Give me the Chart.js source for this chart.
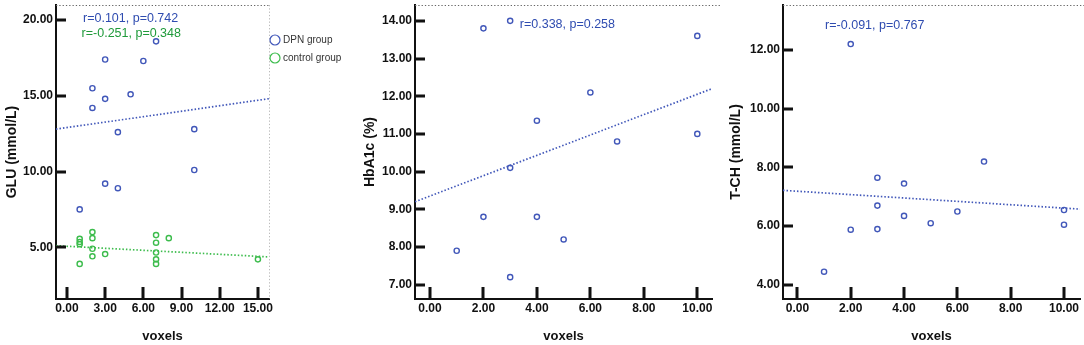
<!DOCTYPE html>
<html lang="en">
<head>
    <meta charset="UTF-8">
    <title>Voxels correlations</title>
    <style>
        body {
            margin: 0;
            padding: 0;
            background: #fff;
        }
        #wrap {
            position: relative;
            width: 1084px;
            height: 345px;
        }
        canvas {
            position: absolute;
            top: 0;
        }
    </style>
</head>
<body>
    <div id="wrap">
        <canvas id="gluChart" width="360" height="345" style="left:0"></canvas>
        <canvas id="hbaChart" width="360" height="345" style="left:360px"></canvas>
        <canvas id="tchChart" width="364" height="345" style="left:720px"></canvas>
    </div>
    <script src="https://cdn.jsdelivr.net/npm/chart.js@4.4.1/dist/chart.umd.min.js"></script>
    <script>
        // GLU panel
        const gluTicksX = [0, 3, 6, 9, 12, 15];
        const gluTicksY = [5, 10, 15, 20];
        const dpnVoxels = [1, 2, 2, 3, 3, 3, 4, 4, 5, 6, 7, 10, 10];
        const dpnGlu = [7.5, 15.5, 14.2, 17.4, 14.8, 9.2, 12.6, 8.9, 15.1, 17.3, 18.6, 12.8, 10.1];
        const ctrlVoxels = [1, 1, 1, 1, 2, 2, 2, 2, 3, 7, 7, 7, 7, 7, 8, 15];
        const ctrlGlu = [5.55, 5.35, 5.2, 3.9, 6.0, 5.6, 4.9, 4.4, 4.55, 5.8, 5.3, 4.65, 4.2, 3.9, 5.6, 4.2];
        const gluFitX = [-0.86, 15.87];
        const dpnFitY = [12.8, 14.81];
        const ctrlFitY = [5.1, 4.36];

        // HbA1c panel
        const hbaTicksX = [0, 2, 4, 6, 8, 10];
        const hbaTicksY = [7, 8, 9, 10, 11, 12, 13, 14];
        const hbaVoxels = [2, 3, 10, 6, 4, 7, 10, 3, 2, 4, 1, 5, 3];
        const hbaValues = [13.8, 14.0, 13.6, 12.1, 11.35, 10.8, 11.0, 10.1, 8.8, 8.8, 7.9, 8.2, 7.2];
        const hbaFitX = [-0.56, 10.55];
        const hbaFitY = [9.2, 12.2];

        // T-CH panel
        const tchTicksX = [0, 2, 4, 6, 8, 10];
        const tchTicksY = [4, 6, 8, 10, 12];
        const tchVoxels = [2, 7, 3, 4, 3, 4, 6, 10, 5, 10, 2, 3, 1];
        const tchValues = [12.2, 8.2, 7.65, 7.45, 6.7, 6.35, 6.5, 6.55, 6.1, 6.05, 5.88, 5.9, 4.45];
        const tchFitX = [-0.54, 10.6];
        const tchFitY = [7.22, 6.58];

        const BLUE = '#4157b9';
        const BLUE_TEXT = '#2f4cb0';
        const GREEN = '#3cbc4c';
        const GREEN_TEXT = '#1f9a3a';
        const FONT = '"Liberation Sans", Arial, sans-serif';

        function pairs(xs, ys) {
            return xs.map((x, i) => ({ x: x, y: ys[i] }));
        }

        function pointSet(label, xs, ys, color) {
            return {
                type: 'scatter',
                label: label,
                data: pairs(xs, ys),
                borderColor: color,
                backgroundColor: 'rgba(0,0,0,0)',
                borderWidth: 1.4,
                pointRadius: 2.6,
                pointHoverRadius: 2.6
            };
        }

        function fitSet(xs, ys, color) {
            return {
                type: 'line',
                data: pairs(xs, ys),
                borderColor: color,
                borderWidth: 1.7,
                borderDash: [1.5, 2],
                pointRadius: 0,
                fill: false
            };
        }

        // dotted frame, inward tick marks, r/p notes and the little legend
        const panelDeco = {
            id: 'panelDeco',
            afterDraw(chart, args, opts) {
                const ctx = chart.ctx;
                const a = chart.chartArea;
                const xs = chart.scales.x;
                const ys = chart.scales.y;
                ctx.save();
                ctx.lineWidth = 1;
                ctx.strokeStyle = '#666';
                ctx.setLineDash([1.3, 2]);
                ctx.beginPath();
                ctx.moveTo(a.left, a.top + 0.5);
                ctx.lineTo(opts.rightFrame ? a.right : chart.width, a.top + 0.5);
                ctx.stroke();
                if (opts.rightFrame) {
                    ctx.strokeStyle = '#bbb';
                    ctx.beginPath();
                    ctx.moveTo(a.right + 0.5, a.top);
                    ctx.lineTo(a.right + 0.5, a.bottom);
                    ctx.stroke();
                }
                ctx.setLineDash([]);

                // stroked ticks did not show up here, so they are filled
                ctx.fillStyle = '#111';
                opts.xTicks.forEach(v => {
                    const px = Math.round(xs.getPixelForValue(v));
                    ctx.fillRect(px - 1.5, a.bottom - 12, 3, 12);
                });
                opts.yTicks.forEach(v => {
                    const py = Math.round(ys.getPixelForValue(v));
                    ctx.fillRect(a.left - 1, py - 1.5, 11, 3);
                });

                ctx.textBaseline = 'middle';
                ctx.textAlign = 'left';
                ctx.font = '12.5px ' + FONT;
                (opts.notes || []).forEach(n => {
                    ctx.fillStyle = n.color;
                    ctx.fillText(n.text, xs.getPixelForValue(n.x), ys.getPixelForValue(n.y));
                });

                ctx.font = '10px ' + FONT;
                ctx.lineWidth = 1.2;
                (opts.legend || []).forEach((item, i) => {
                    const cy = 40 + i * 18;
                    const cx = a.right + 6;
                    ctx.strokeStyle = item.color;
                    ctx.beginPath();
                    ctx.arc(cx, cy, 5, 0, Math.PI * 2);
                    ctx.stroke();
                    ctx.fillStyle = '#333';
                    ctx.fillText(item.text, cx + 8, cy);
                });
                ctx.restore();
            }
        };

        function makePanel(id, p) {
            const tickFont = { family: FONT, size: 12, weight: 'bold' };
            return new Chart(document.getElementById(id).getContext('2d'), {
                type: 'scatter',
                data: { datasets: p.datasets },
                options: {
                    responsive: false,
                    animation: false,
                    events: [],
                    layout: { padding: { top: 5, right: p.padRight, left: 0, bottom: 0 } },
                    plugins: {
                        legend: { display: false },
                        tooltip: { enabled: false },
                        panelDeco: {
                            notes: p.notes,
                            legend: p.legend,
                            rightFrame: p.rightFrame,
                            xTicks: p.xTicks,
                            yTicks: p.yTicks
                        }
                    },
                    scales: {
                        x: {
                            type: 'linear',
                            min: p.xMin,
                            max: p.xMax,
                            afterBuildTicks: s => { s.ticks = p.xTicks.map(v => ({ value: v })); },
                            afterFit: s => {
                                s.height = 46;
                                s.paddingLeft = 0;
                                s.paddingRight = 0;
                            },
                            grid: { drawOnChartArea: false, drawTicks: false },
                            border: { display: true, color: '#111', width: 2 },
                            ticks: {
                                padding: 2,
                                color: '#111',
                                font: tickFont,
                                maxRotation: 0,
                                autoSkip: false,
                                callback: v => Number(v).toFixed(2)
                            },
                            title: {
                                display: true,
                                text: 'voxels',
                                color: '#111',
                                font: { family: FONT, size: 13, weight: 'bold' },
                                padding: { top: 2, bottom: 1 }
                            }
                        },
                        y: {
                            type: 'linear',
                            min: p.yMin,
                            max: p.yMax,
                            afterBuildTicks: s => { s.ticks = p.yTicks.map(v => ({ value: v })); },
                            afterFit: s => {
                                s.width = p.yWidth;
                                s.paddingTop = 0;
                                s.paddingBottom = 0;
                            },
                            grid: { drawOnChartArea: false, drawTicks: false },
                            border: { display: true, color: '#111', width: 2 },
                            ticks: {
                                padding: 3,
                                color: '#111',
                                font: tickFont,
                                autoSkip: false,
                                callback: v => Number(v).toFixed(2)
                            },
                            title: {
                                display: true,
                                text: p.yTitle,
                                color: '#111',
                                font: { family: FONT, size: 14, weight: 'bold' },
                                padding: { top: p.yTitlePad, bottom: 0 }
                            }
                        }
                    }
                },
                plugins: [panelDeco]
            });
        }

        makePanel('gluChart', {
            datasets: [
                pointSet('DPN group', dpnVoxels, dpnGlu, BLUE),
                pointSet('control group', ctrlVoxels, ctrlGlu, GREEN),
                fitSet(gluFitX, dpnFitY, BLUE),
                fitSet(gluFitX, ctrlFitY, GREEN)
            ],
            xMin: -0.86, xMax: 15.87, yMin: 1.58, yMax: 21.0,
            xTicks: gluTicksX, yTicks: gluTicksY,
            yWidth: 56, padRight: 91, yTitlePad: 4,
            yTitle: 'GLU (mmol/L)',
            rightFrame: true,
            notes: [
                { text: 'r=0.101, p=0.742', x: 1.26, y: 20.13, color: BLUE_TEXT },
                { text: 'r=-0.251, p=0.348', x: 1.15, y: 19.14, color: GREEN_TEXT }
            ],
            legend: [
                { text: 'DPN group', color: BLUE },
                { text: 'control group', color: GREEN }
            ]
        });

        makePanel('hbaChart', {
            datasets: [
                pointSet('DPN group', hbaVoxels, hbaValues, BLUE),
                fitSet(hbaFitX, hbaFitY, BLUE)
            ],
            xMin: -0.56, xMax: 10.55, yMin: 6.62, yMax: 14.42,
            xTicks: hbaTicksX, yTicks: hbaTicksY,
            yWidth: 55, padRight: 8, yTitlePad: 2,
            yTitle: 'HbA1c (%)',
            rightFrame: false,
            notes: [
                { text: 'r=0.338, p=0.258', x: 3.36, y: 13.89, color: BLUE_TEXT }
            ]
        });

        makePanel('tchChart', {
            datasets: [
                pointSet('DPN group', tchVoxels, tchValues, BLUE),
                fitSet(tchFitX, tchFitY, BLUE)
            ],
            xMin: -0.54, xMax: 10.6, yMin: 3.52, yMax: 13.53,
            xTicks: tchTicksX, yTicks: tchTicksY,
            yWidth: 63, padRight: 4, yTitlePad: 8,
            yTitle: 'T-CH (mmol/L)',
            rightFrame: false,
            notes: [
                { text: 'r=-0.091, p=0.767', x: 1.04, y: 12.82, color: BLUE_TEXT }
            ]
        });
    </script>
</body>
</html>
